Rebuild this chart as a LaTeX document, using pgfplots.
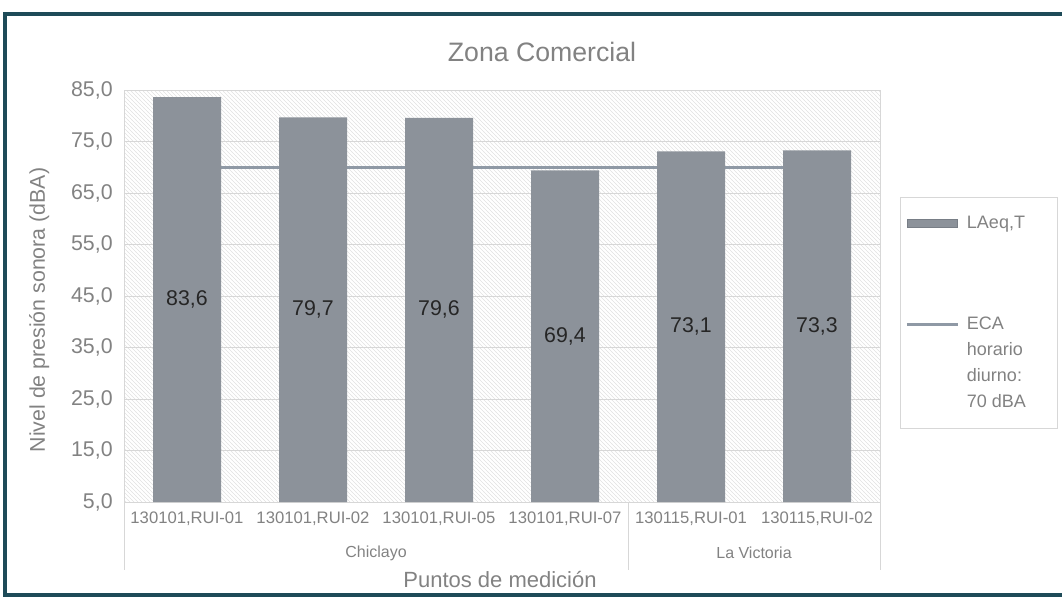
\documentclass[border=0pt]{standalone}
\usepackage{fontspec}
\setmainfont{Liberation Sans}
\usepackage{pgfplots}
\usepackage{pgfplotstable}
\pgfplotsset{compat=1.18}
\usetikzlibrary{patterns}
\definecolor{txt}{RGB}{130,130,130}
\definecolor{barc}{RGB}{140,146,154}
\definecolor{barb}{RGB}{120,126,134}
\definecolor{ecac}{RGB}{143,153,165}
\definecolor{framec}{RGB}{30,75,88}
\definecolor{gridc}{RGB}{215,215,215}
\definecolor{hatchc}{RGB}{225,225,225}

\pgfplotstableread{
x v lab
0 83.6 {83,6}
1 79.7 {79,7}
2 79.6 {79,6}
3 69.4 {69,4}
4 73.1 {73,1}
5 73.3 {73,3}
}\datatab

\pgfplotstableread{
x eca
0 70
5 70
}\ecatab

\begin{document}
\begin{tikzpicture}
\useasboundingbox (0,0) rectangle (796.5pt,450pt);
\draw[framec, line width=3pt] (810pt,439.5pt) -- (3.75pt,439.5pt) -- (3.75pt,3.75pt) -- (810pt,3.75pt);
\node[font=\fontsize{20}{24}\selectfont, text=txt] at (406.5pt,411pt) {Zona Comercial};
\node[font=\fontsize{16}{19}\selectfont, text=txt, rotate=90] at (29.5pt,217.5pt) {Nivel de presión sonora (dBA)};
\node[font=\fontsize{16.5}{20}\selectfont, text=txt] at (375pt,15pt) {Puntos de medición};
\begin{axis}[
  at={(93pt,73.5pt)}, anchor=south west,
  scale only axis, width=567pt, height=309pt,
  xmin=-0.5, xmax=5.5, ymin=5, ymax=85,
  xtick={0,...,5},
  xticklabels={{130101,RUI-01},{130101,RUI-02},{130101,RUI-05},{130101,RUI-07},{130115,RUI-01},{130115,RUI-02}},
  ytick={5,15,...,85},
  major tick length=0pt,
  ymajorgrids, grid style={gridc, line width=0.75pt},
  axis line style={gridc, line width=0.75pt},
  axis background/.style={pattern=north west lines, pattern color=hatchc},
  tick label style={text=txt},
  xticklabel style={font=\fontsize{12.5}{15}\selectfont, yshift=-4pt},
  yticklabel style={font=\fontsize{16}{19}\selectfont, xshift=-5pt,
    /pgf/number format/.cd, fixed, fixed zerofill, precision=1, use comma},
  /pgf/number format/assume math mode=true,
  clip=false,
  reverse legend,
  legend style={at={(1.0265,0.740)}, anchor=north west, draw=gridc, fill=white,
    font=\fontsize{13.5}{19.5}\selectfont, text=txt, cells={align=left},
    row sep=61pt, inner xsep=4pt, inner ysep=12pt},
  legend cell align=left,
]
\addplot[ecac, line width=2.25pt, mark=none,
  legend image code/.code={\draw[ecac, line width=2pt] (0pt,29pt) -- (38pt,29pt);}]
  table[x=x, y=eca] {\ecatab};
\addlegendentry[inner xsep=6pt]{ECA\\\makebox[58pt][l]{horario}\\diurno:\\70 dBA}
\addplot[ybar, bar width=51pt, fill=barc, draw=none,
  legend image code/.code={\fill[barc, draw=barb] (0pt,-3pt) rectangle (38pt,3pt);}]
  table[x=x, y=v] {\datatab};
\addlegendentry[inner xsep=6pt]{LAeq,T}
\addplot[draw=none, mark=none, forget plot, nodes near coords, point meta=explicit symbolic,
  nodes near coords style={anchor=center, font=\fontsize{16}{19}\selectfont, text=black!85}]
  table[x=x, y expr={(\thisrow{v}+5)/2}, meta=lab] {\datatab};
\draw[gridc, line width=0.75pt] (axis cs:-0.5,5) -- ++(0pt,-51pt);
\draw[gridc, line width=0.75pt] (axis cs:3.5,5) -- ++(0pt,-51pt);
\draw[gridc, line width=0.75pt] (axis cs:5.5,5) -- ++(0pt,-51pt);
\node[font=\fontsize{12}{14}\selectfont, text=txt] at ([yshift=-38.25pt]axis cs:1.5,5) {Chiclayo};
\node[font=\fontsize{12}{14}\selectfont, text=txt] at ([yshift=-38.25pt]axis cs:4.5,5) {La Victoria};
\end{axis}
\end{tikzpicture}
\end{document}
